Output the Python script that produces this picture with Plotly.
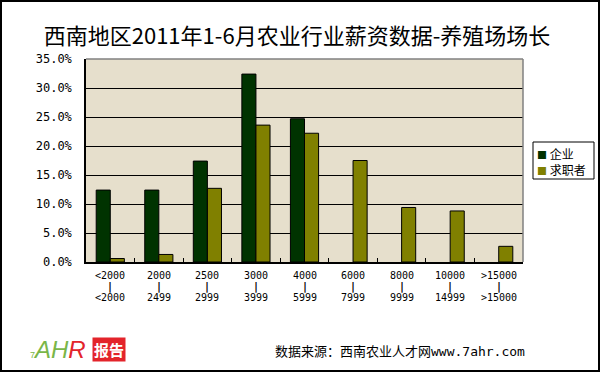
import plotly.graph_objects as go

# ---- data ----
cat_lo = ["<2000", "2000", "2500", "3000", "4000", "6000", "8000", "10000", ">15000"]
cat_hi = ["<2000", "2499", "2999", "3999", "5999", "7999", "9999", "14999", ">15000"]
enterprise = [12.4, 12.4, 17.4, 32.4, 24.7, None, None, None, None]
jobseeker = [0.6, 1.3, 12.7, 23.6, 22.2, 17.5, 9.4, 8.8, 2.7]
series_names = ["企业", "求职者"]
series_colors = ["#003300", "#808000"]
y_ticks = [0, 5, 10, 15, 20, 25, 30, 35]
title_text = "西南地区2011年1-6月农业行业薪资数据-养殖场场长"
source_text = "数据来源：西南农业人才网www.7ahr.com"

W, H = 600, 372
ML, MR, MT, MB = 86, 77, 59, 110
PW, PH = W - ML - MR, H - MT - MB

def px_x(px):
    return (px - ML) / PW

def px_y(py):
    return (H - MB - py) / PH

mono = "DejaVu Sans Mono, Noto Sans CJK SC"
cjk = "Noto Sans CJK SC"

fig = go.Figure()
for name, vals, col in zip(series_names, [enterprise, jobseeker], series_colors):
    fig.add_trace(go.Bar(
        x=cat_lo, y=vals, name=name,
        marker=dict(color=col, line=dict(color="black", width=1)),
        showlegend=False,
    ))

annotations = []
# x-axis category labels (three rows), positioned by category index
for i, (lo, hi) in enumerate(zip(cat_lo, cat_hi)):
    for txt, shift in [(lo, -13), ("<b>|</b>", -24.5), (hi, -35)]:
        annotations.append(dict(
            x=i, xref="x", y=0, yref="paper", text=txt, showarrow=False,
            yanchor="middle", xanchor="center", yshift=shift,
            font=dict(family=mono, size=10, color="black"),
        ))

# legend entries (box drawn as a shape below)
for k, (n, c) in enumerate(zip(series_names, series_colors)):
    annotations.append(dict(
        x=px_x(536), xref="paper", y=px_y(153 + 16 * k), yref="paper",
        xanchor="left", yanchor="middle", borderpad=0,
        text=f"<span style='color:{c};font-size:10px'>■</span> {n}", showarrow=False,
        font=dict(family=cjk, size=12, color="black"),
    ))

# footer
annotations.append(dict(
    x=px_x(400), xref="paper", y=px_y(351), yref="paper", xanchor="center", yanchor="middle",
    text=source_text, showarrow=False, font=dict(family=mono, size=13, color="black"),
))
# logo
annotations.append(dict(
    x=px_x(88), xref="paper", y=px_y(349), yref="paper", xanchor="right", yanchor="middle",
    text="<span style='font-size:9px'>7</span><i>AH</i><span style='color:#e3242b'><i>R</i></span>",
    showarrow=False, font=dict(family="Liberation Sans Narrow, Liberation Sans", size=24, color="#7ab648"),
))
annotations.append(dict(
    x=px_x(92), xref="paper", y=px_y(349), yref="paper", xanchor="left", yanchor="middle",
    text="<b>报告</b>", showarrow=False, font=dict(family=cjk, size=15, color="white"),
    bgcolor="#e3242b", borderpad=1,
))

shapes = [
    dict(type="line", xref="paper", yref="paper", x0=0, x1=1, y0=1, y1=1,
         line=dict(color="#808080", width=1.5), layer="above"),
    dict(type="line", xref="paper", yref="paper", x0=1, x1=1, y0=0, y1=1,
         line=dict(color="#808080", width=1.5), layer="above"),
    # legend box
    dict(type="rect", xref="paper", yref="paper",
         x0=px_x(533), x1=px_x(594), y0=px_y(179), y1=px_y(142),
         line=dict(color="black", width=1), fillcolor="white", layer="above"),
    # outer figure border
    dict(type="rect", xref="paper", yref="paper",
         x0=px_x(1), x1=px_x(W - 1), y0=px_y(H - 1), y1=px_y(1),
         line=dict(color="black", width=2), layer="above"),
]

fig.update_layout(
    width=W, height=H,
    margin=dict(l=ML, r=MR, t=MT, b=MB),
    paper_bgcolor="white",
    plot_bgcolor="#e6dfcc",
    barmode="group", bargap=0.42, bargroupgap=0,
    title=dict(text=title_text, x=297 / W, xanchor="center", y=1 - 36 / H, yanchor="middle",
               xref="container", yref="container",
               font=dict(family=cjk, size=22, color="black")),
    xaxis=dict(type="category", categoryorder="array", categoryarray=cat_lo,
               showticklabels=False, ticks="inside", ticklen=4,
               tickcolor="black", tickson="boundaries", showline=True, linecolor="black",
               linewidth=1.5, showgrid=False, fixedrange=True),
    yaxis=dict(range=[0, 35], tickvals=y_ticks, ticktext=[f"{v:.1f}%" for v in y_ticks],
               showgrid=True, gridcolor="black", gridwidth=1, showline=True,
               linecolor="black", linewidth=1.5, ticks="", zeroline=False,
               ticklabelstandoff=10,
               tickfont=dict(family=mono, size=12, color="black"), fixedrange=True),
    annotations=annotations,
    shapes=shapes,
)

fig.write_html("out.html", config={"displayModeBar": False})
with open("out.html", encoding="utf-8") as f:
    html = f.read()
html = html.replace("<body>", "<body style=\"margin:0;padding:0;overflow:hidden\">", 1)
with open("out.html", "w", encoding="utf-8") as f:
    f.write(html)
